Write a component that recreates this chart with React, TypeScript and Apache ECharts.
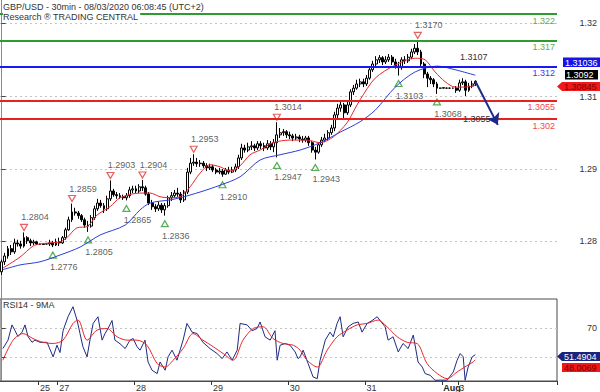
import React, { useEffect, useRef } from 'react';
import * as echarts from 'echarts';

// ---- hourly candles (index 0 = first bar on Jul 24) ----
const candleOpen = [
  1.2729, 1.2748, 1.2759, 1.2773, 1.2767, 1.2784, 1.2782, 1.2778, 1.2794, 1.2788,
  1.2784, 1.2786, 1.2782, 1.2781, 1.2782, 1.2782, 1.2784, 1.2780, 1.2786, 1.2784,
  1.2794, 1.2809, 1.2828, 1.2843, 1.2841, 1.2836, 1.2828, 1.2818, 1.2816, 1.2832,
  1.2849, 1.2860, 1.2855, 1.2849, 1.2868, 1.2883, 1.2876, 1.2874, 1.2872, 1.2870,
  1.2874, 1.2885, 1.2887, 1.2883, 1.2891, 1.2889, 1.2877, 1.2860, 1.2853, 1.2849,
  1.2856, 1.2847, 1.2855, 1.2870, 1.2874, 1.2879, 1.2877, 1.2866, 1.2881, 1.2919,
  1.2936, 1.2938, 1.2935, 1.2936, 1.2931, 1.2927, 1.2929, 1.2923, 1.2919, 1.2921,
  1.2915, 1.2923, 1.2919, 1.2923, 1.2929, 1.2946, 1.2965, 1.2961, 1.2967, 1.2969,
  1.2965, 1.2973, 1.2969, 1.2965, 1.2973, 1.2967, 1.2975, 1.2990, 1.2994, 1.2996,
  1.2990, 1.2988, 1.2984, 1.2986, 1.2982, 1.2980, 1.2984, 1.2975, 1.2961, 1.2957,
  1.2971, 1.2980, 1.2984, 1.2994, 1.3003, 1.3028, 1.3041, 1.3047, 1.3032, 1.3047,
  1.3072, 1.3079, 1.3087, 1.3091, 1.3087, 1.3098, 1.3114, 1.3125, 1.3133, 1.3137,
  1.3129, 1.3133, 1.3138, 1.3129, 1.3121, 1.3118, 1.3133, 1.3131, 1.3138, 1.3148,
  1.3155, 1.3148, 1.3125, 1.3106, 1.3098, 1.3095, 1.3087, 1.3079, 1.3079, 1.3079,
  1.3079, 1.3079, 1.3079, 1.3075, 1.3089, 1.3091, 1.3075, 1.3083, 1.3087,
];
const candleClose = [
  1.2748, 1.2759, 1.2773, 1.2767, 1.2784, 1.2782, 1.2778, 1.2794, 1.2788, 1.2784,
  1.2786, 1.2782, 1.2781, 1.2782, 1.2782, 1.2784, 1.2780, 1.2786, 1.2784, 1.2794,
  1.2809, 1.2828, 1.2843, 1.2841, 1.2836, 1.2828, 1.2818, 1.2816, 1.2832, 1.2849,
  1.2860, 1.2855, 1.2849, 1.2868, 1.2883, 1.2876, 1.2874, 1.2872, 1.2870, 1.2874,
  1.2885, 1.2887, 1.2883, 1.2891, 1.2889, 1.2877, 1.2860, 1.2853, 1.2849, 1.2856,
  1.2847, 1.2855, 1.2870, 1.2874, 1.2879, 1.2877, 1.2866, 1.2881, 1.2919, 1.2936,
  1.2938, 1.2935, 1.2936, 1.2931, 1.2927, 1.2929, 1.2923, 1.2919, 1.2921, 1.2915,
  1.2923, 1.2919, 1.2923, 1.2929, 1.2946, 1.2965, 1.2961, 1.2967, 1.2969, 1.2965,
  1.2973, 1.2969, 1.2965, 1.2973, 1.2967, 1.2975, 1.2990, 1.2994, 1.2996, 1.2990,
  1.2988, 1.2984, 1.2986, 1.2982, 1.2980, 1.2984, 1.2975, 1.2961, 1.2957, 1.2971,
  1.2980, 1.2984, 1.2994, 1.3003, 1.3028, 1.3041, 1.3047, 1.3032, 1.3047, 1.3072,
  1.3079, 1.3087, 1.3091, 1.3087, 1.3098, 1.3114, 1.3125, 1.3133, 1.3137, 1.3129,
  1.3133, 1.3138, 1.3129, 1.3121, 1.3118, 1.3133, 1.3131, 1.3138, 1.3148, 1.3155,
  1.3148, 1.3125, 1.3106, 1.3098, 1.3095, 1.3087, 1.3079, 1.3079, 1.3080, 1.3079,
  1.3079, 1.3079, 1.3075, 1.3089, 1.3091, 1.3075, 1.3083, 1.3087, 1.3092,
];
const candleLow = [
  1.2723, 1.2742, 1.2754, 1.2761, 1.2763, 1.2777, 1.2773, 1.2775, 1.2782, 1.2778,
  1.2780, 1.2780, 1.2780, 1.2780, 1.2781, 1.2778, 1.2776, 1.2778, 1.2778, 1.2782,
  1.2790, 1.2807, 1.2824, 1.2836, 1.2830, 1.2824, 1.2813, 1.2805, 1.2813, 1.2828,
  1.2845, 1.2851, 1.2841, 1.2845, 1.2864, 1.2872, 1.2868, 1.2868, 1.2866, 1.2865,
  1.2870, 1.2879, 1.2879, 1.2879, 1.2883, 1.2874, 1.2856, 1.2847, 1.2843, 1.2845,
  1.2841, 1.2836, 1.2851, 1.2864, 1.2870, 1.2872, 1.2860, 1.2862, 1.2877, 1.2915,
  1.2931, 1.2929, 1.2929, 1.2927, 1.2921, 1.2923, 1.2919, 1.2915, 1.2915, 1.2910,
  1.2914, 1.2915, 1.2917, 1.2919, 1.2925, 1.2942, 1.2956, 1.2957, 1.2961, 1.2959,
  1.2961, 1.2963, 1.2959, 1.2961, 1.2961, 1.2957, 1.2947, 1.2984, 1.2988, 1.2984,
  1.2982, 1.2978, 1.2980, 1.2976, 1.2975, 1.2976, 1.2969, 1.2956, 1.2943, 1.2954,
  1.2967, 1.2976, 1.2980, 1.2990, 1.2997, 1.3022, 1.3034, 1.3022, 1.3028, 1.3043,
  1.3066, 1.3076, 1.3081, 1.3081, 1.3083, 1.3095, 1.3110, 1.3121, 1.3127, 1.3123,
  1.3125, 1.3129, 1.3123, 1.3116, 1.3103, 1.3114, 1.3125, 1.3127, 1.3134, 1.3144,
  1.3142, 1.3121, 1.3098, 1.3081, 1.3087, 1.3081, 1.3068, 1.3078, 1.3078, 1.3078,
  1.3078, 1.3078, 1.3070, 1.3072, 1.3085, 1.3064, 1.3072, 1.3079, 1.3083,
];
const candleHigh = [
  1.2752, 1.2765, 1.2778, 1.2780, 1.2792, 1.2790, 1.2788, 1.2804, 1.2797, 1.2792,
  1.2790, 1.2788, 1.2783, 1.2783, 1.2783, 1.2790, 1.2788, 1.2792, 1.2794, 1.2797,
  1.2813, 1.2834, 1.2859, 1.2851, 1.2845, 1.2839, 1.2832, 1.2826, 1.2837, 1.2855,
  1.2868, 1.2866, 1.2860, 1.2874, 1.2903, 1.2887, 1.2881, 1.2879, 1.2876, 1.2879,
  1.2891, 1.2893, 1.2893, 1.2896, 1.2904, 1.2893, 1.2881, 1.2866, 1.2858, 1.2862,
  1.2860, 1.2860, 1.2874, 1.2881, 1.2885, 1.2889, 1.2881, 1.2885, 1.2927, 1.2946,
  1.2953, 1.2946, 1.2942, 1.2940, 1.2936, 1.2935, 1.2933, 1.2927, 1.2927, 1.2925,
  1.2927, 1.2929, 1.2929, 1.2935, 1.2952, 1.2973, 1.2971, 1.2975, 1.2978, 1.2973,
  1.2978, 1.2978, 1.2975, 1.2980, 1.2978, 1.2982, 1.3014, 1.3003, 1.3001, 1.2999,
  1.2996, 1.2992, 1.2992, 1.2990, 1.2988, 1.2988, 1.2988, 1.2978, 1.2967, 1.2976,
  1.2986, 1.2992, 1.2999, 1.3009, 1.3034, 1.3049, 1.3055, 1.3051, 1.3053, 1.3077,
  1.3085, 1.3095, 1.3097, 1.3097, 1.3104, 1.3119, 1.3131, 1.3140, 1.3142, 1.3140,
  1.3140, 1.3144, 1.3142, 1.3135, 1.3129, 1.3138, 1.3140, 1.3144, 1.3154, 1.3163,
  1.3170, 1.3152, 1.3129, 1.3110, 1.3102, 1.3098, 1.3091, 1.3080, 1.3080, 1.3080,
  1.3080, 1.3080, 1.3083, 1.3095, 1.3098, 1.3095, 1.3089, 1.3093, 1.3094,
];

const SLOT_COUNT = 174; // hourly slots incl. empty projection area
const dayTickIndex = [12, 18, 42, 66, 90, 114, 138, 143];
const dayTickText = ['25', '27', '28', '29', '30', '31', 'Aug', '3'];

// moving averages on price (x in hourly slots)
const redMaX = [0.4, 5.75, 9.8, 12, 15.1, 18.3, 20.4, 23.6, 26.7, 29.8, 33.9, 37, 43.25, 46.4, 49.5, 52.6, 55.75, 58.9, 62, 65.1, 68.25, 71.4, 74.5, 77.6, 80.75, 84.8, 90.1, 95.4, 99.5, 103.6, 107.9, 110.4, 112, 116.7, 123, 129.2, 132.3, 135.4, 138.6, 141.7, 144.8, 148];
const redMaY = [1.2736, 1.2757, 1.2778, 1.2782, 1.2784, 1.2786, 1.2794, 1.2813, 1.2815, 1.2837, 1.2853, 1.2870, 1.2879, 1.2879, 1.2872, 1.2870, 1.2872, 1.2891, 1.2917, 1.2933, 1.2929, 1.2921, 1.2931, 1.2952, 1.2961, 1.2975, 1.2980, 1.2980, 1.2975, 1.2986, 1.3013, 1.3040, 1.3057, 1.3098, 1.3123, 1.3136, 1.3133, 1.3110, 1.3091, 1.3081, 1.3081, 1.30845];
const blueMaX = [0.4, 5.75, 12, 18.3, 24.5, 30.75, 38.6, 43.25, 46.4, 52.6, 55.75, 62, 68.25, 74.5, 80.75, 87, 93.25, 99.5, 105.75, 112, 116.7, 123, 129.2, 136.1, 141.7, 148];
const blueMaY = [1.2733, 1.2742, 1.2748, 1.2761, 1.2776, 1.2799, 1.2818, 1.2847, 1.2860, 1.2866, 1.2870, 1.2881, 1.2894, 1.2910, 1.2942, 1.2952, 1.2961, 1.2975, 1.2995, 1.3015, 1.3037, 1.3081, 1.3110, 1.3121, 1.3114, 1.31036];

// pivots
const highIdx = [7, 22, 34, 44, 60, 86, 130];
const highVal = [1.2804, 1.2859, 1.2903, 1.2904, 1.2953, 1.3014, 1.3170];
const lowIdx = [16, 27, 39, 51, 69, 86, 98, 124, 136];
const lowVal = [1.2776, 1.2805, 1.2865, 1.2836, 1.2910, 1.2947, 1.2943, 1.3103, 1.3068];

// key levels
const levelVal = [1.322, 1.317, 1.312, 1.3055, 1.302];
const levelColor = ['#2f9a2f', '#2f9a2f', '#1a1af0', '#e52222', '#e52222'];
const levelTextColor = ['#5aad5a', '#5aad5a', '#3a3af0', '#ee4a4a', '#ee4a4a'];

// projection arrow
const projX = [148, 155];
const projY = [1.3092, 1.3009];
const noteTexts = ['1.3107', '1.3055'];

const priceTicks = [1.2788, 1.2924, 1.3063, 1.3203];

// RSI(14) and its 9MA
const rsiX = [0.4, 2, 3.25, 4.2, 5.1, 6.4, 7.3, 8.25, 9.5, 10.4, 12, 14.2, 16.1, 17.3, 18.25, 19.2, 20.75, 22.3, 23.6, 24.5, 25.4, 26.7, 27.6, 28.6, 30.1, 31.4, 32.3, 33.25, 34.5, 35.4, 37, 38.6, 40.1, 41.1, 42.3, 43.25, 44.8, 45.75, 47, 48.6, 49.5, 51.1, 52, 53.25, 54.8, 55.75, 56.7, 57.9, 59.5, 61.1, 62.9, 65.1, 67.3, 68.9, 70.4, 72, 73.6, 74.5, 76.7, 78.25, 79.8, 80.75, 82.3, 83.9, 85.4, 86.1, 87, 88.6, 90.1, 91.7, 92.6, 93.25, 94.2, 95.75, 97.3, 98.6, 99.5, 101.1, 102.6, 103.6, 104.8, 105.75, 106.7, 108.25, 109.8, 111.4, 112.6, 114.2, 115.75, 117.3, 118.25, 119.8, 120.75, 122.3, 123.9, 125.4, 127, 128.6, 130.1, 131.4, 132.3, 133.9, 135.4, 137, 139.2, 141.1, 142.3, 143.25, 144.2, 144.8, 145.75, 147, 148];
const rsiY = [55.7, 61.5, 72, 68, 64, 67, 72, 64, 60, 61.5, 60, 60, 50, 58, 53, 68, 77.6, 84.5, 75, 66, 57, 50, 61.5, 73, 77.6, 61.5, 66, 69.5, 75, 61.5, 59, 55.7, 61.5, 62.6, 57, 54.6, 61.5, 46.5, 40.8, 38.5, 46.5, 40.8, 50, 54.6, 47.7, 54.6, 61.5, 73, 67, 66, 60, 55.7, 52.3, 48.8, 53.4, 47.7, 54.6, 73, 72, 68, 69.5, 74, 63.8, 61.5, 68, 47.7, 58, 59.2, 58, 53.4, 48.8, 50, 54.6, 45.4, 36.2, 35, 47.7, 61.5, 67, 63.8, 73, 77.6, 63.8, 70.7, 73, 74, 67, 73, 75, 77.6, 75, 70.7, 61.5, 63.8, 53.4, 59.2, 55.7, 65, 46.5, 43, 38.5, 37.3, 33.9, 34, 34, 39.6, 47.7, 52.3, 50, 33.9, 43, 50, 51.4904];
const rsiMaX = [0.4, 3.6, 6.7, 9.8, 12.9, 16.1, 19.2, 22.3, 23.9, 26.7, 29.8, 32.9, 36.1, 39.2, 42.3, 45.4, 48.6, 51.1, 53.6, 56.7, 59.8, 62.9, 66.1, 69.2, 72.3, 75.4, 78.6, 81.7, 84.8, 87.9, 91.1, 93.25, 95.4, 98.6, 101.7, 104.8, 107.9, 111.1, 114.2, 117.6, 120.4, 123.6, 126.7, 129.8, 132.9, 136.1, 139.2, 142.3, 145.4, 147.3, 148];
const rsiMaY = [47.7, 61.5, 66, 62.6, 60, 59.2, 61.5, 73, 75.3, 61.5, 68.4, 69.5, 63.8, 61.5, 61.5, 58, 45.4, 43, 47.7, 55.7, 66, 61.5, 57, 52.3, 47.7, 61.5, 69.5, 70.7, 62.6, 59.2, 58, 54.6, 47.7, 43, 54.6, 63.8, 68.4, 72, 73, 75.3, 70.7, 63.8, 60, 59.2, 45.4, 38.5, 35, 39.6, 44, 46.5, 48.0069];
const rsiTicks = [50, 70];

const lastBlueMa = 1.31036;
const lastClose = 1.3092;
const lastRedMa = 1.30845;
const lastRsi = 51.4904;
const lastRsiMa = 48.0069;

const FONT = '"Liberation Sans", Arial, sans-serif';

function buildOption() {
  const categories = Array.from({ length: SLOT_COUNT }, (_, i) => String(i));
  const candles = candleOpen.map((o, i) => [o, candleClose[i], candleLow[i], candleHigh[i]]);
  const zip = (xs: number[], ys: number[]) => xs.map((x, i) => [x, ys[i]]);
  const isDayStart = (i: number) => dayTickIndex.indexOf(i) >= 0;
  // the last day label sits right next to the month label, so it gets its own axis layer
  const lastK = dayTickIndex.length - 1;
  const isMainLabel = (i: number) => isDayStart(i) && i !== dayTickIndex[lastK];
  const isLastLabel = (i: number) => i === dayTickIndex[lastK];

  const txt = (text: string, x: number, y: number, fill: string, extra: any = {}) => ({
    type: 'text', x, y, z: 100,
    style: { text, fill, font: `9px ${FONT}`, textVerticalAlign: 'middle', ...extra },
  });
  const tag = (points: number[][], color: string) => ({
    type: 'polygon', z: 99, shape: { points }, style: { fill: color },
  });
  const dayLabel = (v: string) => {
    const k = dayTickIndex.indexOf(Number(v));
    if (k < 0) return '';
    return dayTickText[k] === 'Aug' ? '{b|Aug}' : dayTickText[k];
  };

  return {
    animation: false,
    textStyle: { fontFamily: FONT },
    grid: [
      { left: 0, right: 43, top: 0, bottom: 94 },
      { left: 0, right: 43, top: 299, height: 82, show: true, borderColor: '#4a4a4a', borderWidth: 1 },
    ],
    xAxis: [
      { type: 'category', gridIndex: 0, data: categories, boundaryGap: true, axisLabel: { show: false }, axisTick: { show: false }, axisLine: { show: false } },
      { type: 'value', gridIndex: 0, min: -0.5, max: SLOT_COUNT - 0.5, show: false },
      {
        type: 'category', gridIndex: 1, data: categories, boundaryGap: true, position: 'bottom',
        axisLine: { show: true, lineStyle: { color: '#4a4a4a' } },
        axisTick: { show: true, length: 4, interval: (i: number) => isDayStart(i), lineStyle: { color: '#333' } },
        axisLabel: {
          interval: (i: number) => isMainLabel(i), align: 'left', margin: 2, fontSize: 9, color: '#333',
          hideOverlap: false, formatter: dayLabel,
          rich: { b: { fontWeight: 'bold', fontSize: 9, color: '#222' } },
        },
      },
      { type: 'value', gridIndex: 1, min: -0.5, max: SLOT_COUNT - 0.5, show: false },
      {
        type: 'category', gridIndex: 1, data: categories, boundaryGap: true, position: 'bottom', offset: 0,
        axisLine: { show: false }, axisTick: { show: false }, splitLine: { show: false },
        axisLabel: {
          interval: (i: number) => isLastLabel(i), align: 'left', margin: 2, fontSize: 9, color: '#333',
          hideOverlap: false, formatter: dayLabel,
        },
      },
    ],
    yAxis: [
      {
        type: 'value', gridIndex: 0, position: 'right', min: 1.2679, max: 1.3247,
        axisLine: { show: true, lineStyle: { color: '#8a8a8a' } },
        axisTick: { show: true, length: 4, customValues: priceTicks, lineStyle: { color: '#444' } },
        axisLabel: { customValues: priceTicks, formatter: (v: number) => v.toFixed(2), align: 'right', margin: 40, fontSize: 9, color: '#333' },
        splitLine: { show: true, lineStyle: { type: [2, 3], color: '#c4c4c4' } },
      },
      {
        type: 'value', gridIndex: 1, position: 'right', min: 33.4, max: 89.8,
        axisLine: { show: true, lineStyle: { color: '#8a8a8a' } },
        axisTick: { show: true, length: 4, customValues: rsiTicks, lineStyle: { color: '#444' } },
        axisLabel: { customValues: [70], formatter: (v: number) => String(v), align: 'right', margin: 40, fontSize: 9, color: '#333' },
        splitLine: { show: true, lineStyle: { type: [2, 3], color: '#c4c4c4' } },
      },
    ],
    series: [
      {
        type: 'candlestick', xAxisIndex: 0, yAxisIndex: 0, data: candles, barWidth: 2.4,
        itemStyle: { color: '#ffffff', color0: '#000000', borderColor: '#000000', borderColor0: '#000000', borderWidth: 1 },
        markLine: {
          symbol: 'none', silent: true, precision: 5,
          data: levelVal.map((v, k) => ({
            yAxis: v,
            lineStyle: { color: levelColor[k], width: 2, type: 'solid' },
            label: { show: true, position: 'insideEndBottom', formatter: String(v), color: levelTextColor[k], fontSize: 9, distance: [2, 2] },
          })),
        },
      },
      {
        type: 'line', xAxisIndex: 1, yAxisIndex: 0, data: zip(redMaX, redMaY), symbol: 'none', smooth: 0.3,
        lineStyle: { color: '#e8262a', width: 1 }, z: 3,
      },
      {
        type: 'line', xAxisIndex: 1, yAxisIndex: 0, data: zip(blueMaX, blueMaY), symbol: 'none', smooth: 0.3,
        lineStyle: { color: '#2b3fd6', width: 1 }, z: 3,
      },
      {
        type: 'scatter', xAxisIndex: 0, yAxisIndex: 0, data: zip(highIdx, highVal),
        symbol: 'path://M0,0 L10,0 L5,9 Z', symbolSize: [7, 6], symbolOffset: [0, -5],
        itemStyle: { color: 'rgba(0,0,0,0)', borderColor: '#e03a3a', borderWidth: 1.2 },
        label: { show: true, position: 'inside', offset: [11, -10], formatter: (p: any) => p.value[1].toFixed(4), color: '#333', fontSize: 9 },
      },
      {
        type: 'scatter', xAxisIndex: 0, yAxisIndex: 0, data: zip(lowIdx, lowVal),
        symbol: 'triangle', symbolSize: [7, 6], symbolOffset: [0, 8],
        itemStyle: { color: 'rgba(0,0,0,0)', borderColor: '#2e9a2e', borderWidth: 1.2 },
        label: { show: true, position: 'inside', offset: [11, 12], formatter: (p: any) => p.value[1].toFixed(4), color: '#333', fontSize: 9 },
      },
      {
        type: 'line', xAxisIndex: 1, yAxisIndex: 0, data: [], z: 5,
        markLine: {
          silent: true, symbol: ['none', 'arrow'], symbolSize: 11, precision: 5,
          lineStyle: { color: '#1b2a8a', width: 2, type: 'solid' }, label: { show: false },
          data: [[{ coord: [projX[0], projY[0]] }, { coord: [projX[1], projY[1]] }]],
        },
      },
      {
        type: 'line', xAxisIndex: 3, yAxisIndex: 1, data: zip(rsiX, rsiY), symbol: 'none',
        lineStyle: { color: '#1f2a80', width: 1 },
      },
      {
        type: 'line', xAxisIndex: 3, yAxisIndex: 1, data: zip(rsiMaX, rsiMaY), symbol: 'none', smooth: 0.3,
        lineStyle: { color: '#e8262a', width: 1 },
      },
    ],
    graphic: [
      txt('GBP/USD - 30min - 08/03/2020 06:08:45 (UTC+2)', 3, 7, '#333', { backgroundColor: '#fff', padding: [1, 2, 1, 0] }),
      txt('Research \u00AE TRADING CENTRAL', 3, 17, '#333', { backgroundColor: '#fff', padding: [1, 2, 1, 0] }),
      txt('RSI14 - 9MA', 3, 305, '#333'),
      txt(noteTexts[0], 460, 57, '#333'),
      txt(noteTexts[1], 463, 119, '#333'),
      tag([[563, 57.5], [600, 57.5], [600, 67], [563, 67]], '#1414e6'),
      txt(lastBlueMa.toFixed(5), 565, 62.5, '#fff'),
      tag([[565, 70], [598, 70], [598, 79.5], [565, 79.5]], '#000'),
      txt(lastClose.toFixed(4), 566, 75, '#fff'),
      tag([[557, 86.5], [562, 82], [600, 82], [600, 91], [562, 91]], '#f01818'),
      txt(lastRedMa.toFixed(5), 564, 86.5, '#7a0000'),
      tag([[557, 356.5], [562, 352], [600, 352], [600, 361], [562, 361]], '#1a237e'),
      txt(lastRsi.toFixed(4), 564, 356.5, '#fff'),
      tag([[562, 363], [600, 363], [600, 372], [562, 372]], '#f01818'),
      txt(lastRsiMa.toFixed(4), 564, 367.5, '#7a0000'),
    ],
  };
}

export default function App() {
  const ref = useRef<HTMLDivElement>(null);
  useEffect(() => {
    if (!ref.current) return;
    const chart = echarts.init(ref.current, null, { renderer: 'svg' });
    chart.setOption(buildOption() as any);
    return () => chart.dispose();
  }, []);
  return <div ref={ref} style={{ width: 600, height: 392, position: 'absolute', left: 0, top: 0, background: '#fff' }} />;
}
